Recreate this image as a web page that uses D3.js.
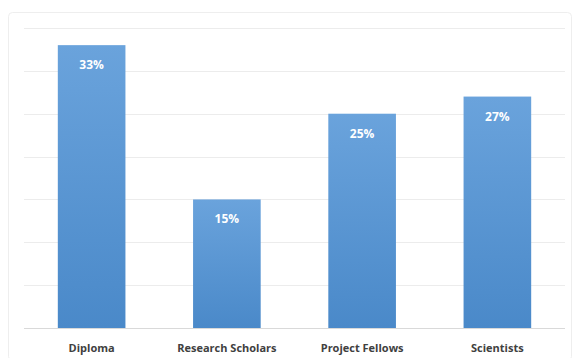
<!DOCTYPE html>
<html>
<head>
<meta charset="utf-8">
<script src="https://cdn.jsdelivr.net/npm/d3@7"></script>
<style>
  body { margin: 0; background: #fff; }
  svg { display: block; }
</style>
</head>
<body>
<div id="chart"></div>
<script>
// chart data
var categories = ["Diploma", "Research Scholars", "Project Fellows", "Scientists"];
var percentValues = [33, 15, 25, 27];
var gridTicks = [0, 5, 10, 15, 20, 25, 30, 35];

var W = 575, H = 358;
var margin = { top: 28, right: 10, bottom: 30, left: 24 };
var plotW = W - margin.left - margin.right,
    plotH = H - margin.top - margin.bottom;

var svg = d3.select("#chart").append("svg").attr("width", W).attr("height", H);

var defs = svg.append("defs");
var grad = defs.append("linearGradient").attr("id", "barGrad")
    .attr("x1", 0).attr("y1", 0).attr("x2", 0).attr("y2", 1);
grad.append("stop").attr("offset", "0%").attr("stop-color", "#6aa3dc");
grad.append("stop").attr("offset", "100%").attr("stop-color", "#4a89c9");

// outer frame
svg.append("rect").attr("x", 8.5).attr("y", 12.5).attr("width", W - 12).attr("height", H - 10)
    .attr("rx", 4).attr("fill", "none").attr("stroke", "#eeeeee");

var g = svg.append("g").attr("transform", "translate(" + margin.left + "," + margin.top + ")");

var x = d3.scaleBand().domain(categories).range([0, plotW]).paddingInner(0.5).paddingOuter(0.25);
var y = d3.scaleLinear().domain([0, 35]).range([plotH, 0]);

// grid lines
g.selectAll(".grid").data(gridTicks).enter().append("line")
    .attr("x1", 0).attr("x2", plotW)
    .attr("y1", function (d) { return Math.round(y(d)) + 0.5; })
    .attr("y2", function (d) { return Math.round(y(d)) + 0.5; })
    .attr("stroke", function (d) { return d == 0 ? "#d9d9d9" : "#ececec"; })
    .attr("stroke-width", 1);

// bars
g.selectAll(".bar").data(percentValues).enter().append("rect")
    .attr("x", function (d, i) { return x(categories[i]); })
    .attr("y", function (d) { return y(d); })
    .attr("width", x.bandwidth())
    .attr("height", function (d) { return plotH - y(d); })
    .attr("fill", "url(#barGrad)");

// value labels
g.selectAll(".val").data(percentValues).enter().append("text")
    .attr("x", function (d, i) { return x(categories[i]) + x.bandwidth() / 2; })
    .attr("y", function (d) { return y(d) + 24; })
    .attr("text-anchor", "middle")
    .attr("font-family", "'Open Sans', sans-serif")
    .attr("font-weight", "bold")
    .attr("font-size", 12)
    .attr("fill", "#ffffff")
    .text(function (d) { return d + "%"; });

// x axis labels
var xAxis = g.append("g").attr("transform", "translate(0," + plotH + ")")
    .call(d3.axisBottom(x).tickSize(0).tickPadding(16));
xAxis.select(".domain").remove();
xAxis.selectAll("text")
    .attr("font-family", "'Open Sans', sans-serif")
    .attr("font-weight", "bold")
    .attr("font-size", 11)
    .attr("fill", "#404040");
</script>
</body>
</html>
